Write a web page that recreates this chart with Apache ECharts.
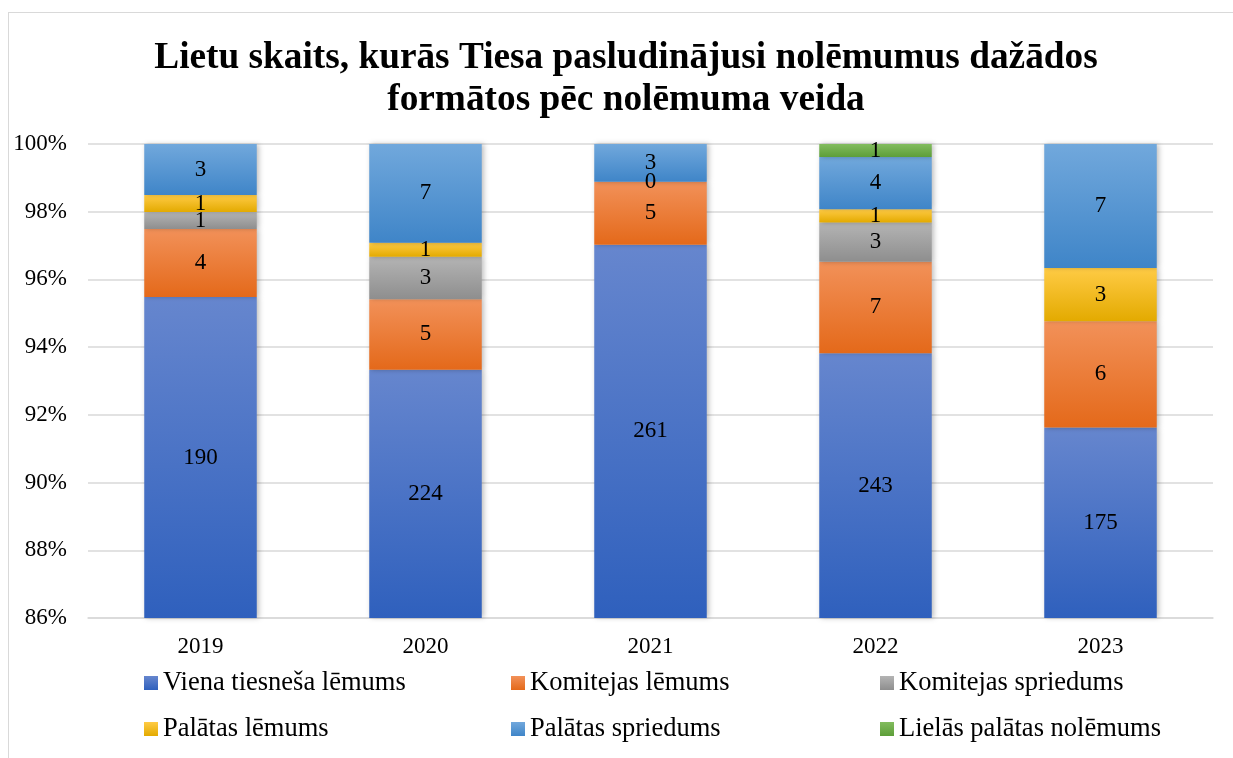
<!DOCTYPE html>
<html>
<head>
<meta charset="utf-8">
<script src="https://cdn.jsdelivr.net/npm/echarts@6/dist/echarts.min.js"></script>
<style>
  body { margin: 0; background: #fff; }
  #frame { position: absolute; left: 8px; top: 12px; right: 0; bottom: 0; border-top: 1.5px solid #d9d9d9; border-left: 1.5px solid #d9d9d9; }
  #chart { position: absolute; left: 0; top: 0; width: 1233px; height: 758px; }
</style>
</head>
<body>
<div id="frame"></div>
<div id="chart"></div>
<script>
  // lietu skaits pa gadiem (null = nav datu)
  const years = ['2019', '2020', '2021', '2022', '2023']
  const vienaTiesnesa = [190, 224, 261, 243, 175]
  const komitejasLemums = [4, 5, 5, 7, 6]
  const komitejasSpriedums = [1, 3, null, 3, null]
  const palatasLemums = [1, 1, 0, 1, 3]
  const palatasSpriedums = [3, 7, 3, 4, 7]
  const lielasPalatas = [null, null, null, 1, null]
  const yTicks = [86, 88, 90, 92, 94, 96, 98, 100]

  const font = "'Liberation Serif', 'Times New Roman', serif"

  const groups = [
    { name: 'Viena tiesneša lēmums', data: vienaTiesnesa, c: ['#6686ce', '#2f60bd'] },
    { name: 'Komitejas lēmums', data: komitejasLemums, c: ['#f29159', '#e4691a'] },
    { name: 'Komitejas spriedums', data: komitejasSpriedums, c: ['#b4b4b4', '#8e8e8e'] },
    { name: 'Palātas lēmums', data: palatasLemums, c: ['#ffcb45', '#e3aa00'] },
    { name: 'Palātas spriedums', data: palatasSpriedums, c: ['#71a8dc', '#3f85c8'] },
    { name: 'Lielās palātas nolēmums', data: lielasPalatas, c: ['#82bc5e', '#5d9e39'] }
  ]

  const totals = years.map((y, i) => groups.reduce((s, g) => s + (g.data[i] || 0), 0))

  const series = groups.map(g => ({
    name: g.name,
    type: 'bar',
    stack: 'all',
    barWidth: '50%',
    data: g.data.map((v, i) => v === null ? '-' : v / totals[i] * 100),
    itemStyle: {
      color: new echarts.graphic.LinearGradient(0, 0, 0, 1, [
        { offset: 0, color: g.c[0] },
        { offset: 1, color: g.c[1] }
      ]),
      shadowBlur: 5,
      shadowOffsetX: 2,
      shadowColor: 'rgba(0,0,0,0.25)'
    },
    label: {
      show: true,
      position: 'inside',
      color: '#000',
      fontFamily: font,
      fontSize: 23,
      formatter: p => g.data[p.dataIndex]
    }
  }))

  const legendBase = {
    orient: 'vertical',
    top: 668,
    padding: 0,
    itemWidth: 14,
    itemHeight: 14,
    itemGap: 16,
    icon: 'rect',
    textStyle: { fontFamily: font, fontSize: 26.5, color: '#000', lineHeight: 30 }
  }

  let myChart = echarts.init(document.getElementById('chart'))
  myChart.setOption({
    animation: false,
    title: {
      text: 'Lietu skaits, kurās Tiesa pasludinājusi nolēmumus dažādos\nformātos pēc nolēmuma veida',
      left: 626,
      textAlign: 'center',
      top: 37,
      padding: 0,
      textStyle: { fontFamily: font, fontSize: 37.3, fontWeight: 'bold', color: '#000', lineHeight: 42 }
    },
    legend: [
      Object.assign({ left: 144, data: [groups[0].name, groups[3].name] }, legendBase),
      Object.assign({ left: 511, data: [groups[1].name, groups[4].name] }, legendBase),
      Object.assign({ left: 880, data: [groups[2].name, groups[5].name] }, legendBase)
    ],
    grid: { left: 88, right: 20, top: 144, bottom: 140 },
    xAxis: {
      type: 'category',
      data: years,
      axisTick: { show: false },
      axisLine: { lineStyle: { color: '#d9d9d9', width: 1.5 } },
      axisLabel: { fontFamily: font, fontSize: 23, color: '#000', margin: 17 }
    },
    yAxis: {
      type: 'value',
      min: yTicks[0],
      max: yTicks[yTicks.length - 1],
      interval: 2,
      axisLine: { show: false },
      axisTick: { show: false },
      splitLine: { lineStyle: { color: '#d9d9d9', width: 1.5 } },
      axisLabel: { fontFamily: font, fontSize: 23, color: '#000', margin: 21, formatter: '{value}%' }
    },
    series: series
  })
</script>
</body>
</html>
